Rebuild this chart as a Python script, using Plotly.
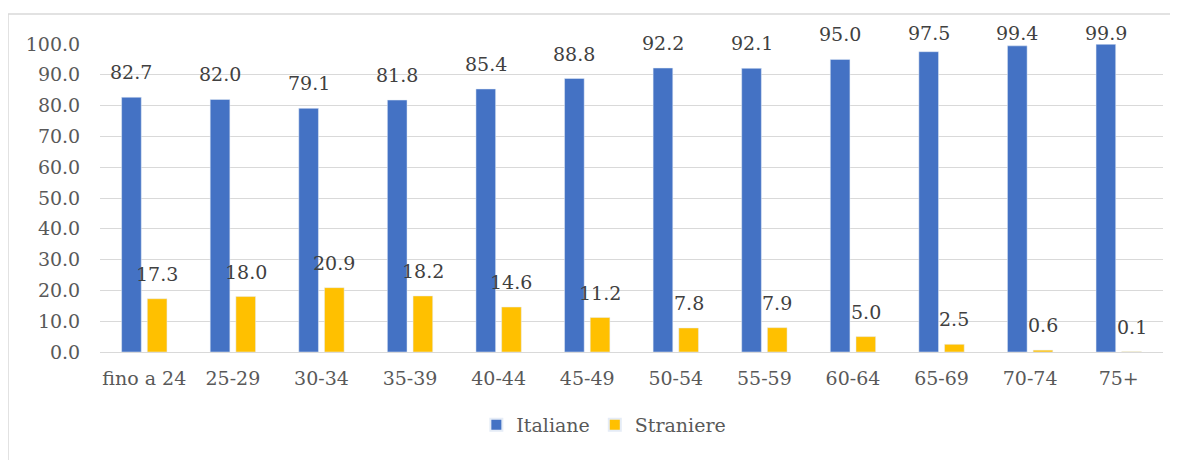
import plotly.graph_objects as go

categories = ['fino a 24', '25-29', '30-34', '35-39', '40-44', '45-49',
              '50-54', '55-59', '60-64', '65-69', '70-74', '75+']
italiane = [82.7, 82.0, 79.1, 81.8, 85.4, 88.8, 92.2, 92.1, 95.0, 97.5, 99.4, 99.9]
straniere = [17.3, 18.0, 20.9, 18.2, 14.6, 11.2, 7.8, 7.9, 5.0, 2.5, 0.6, 0.1]

BLUE = '#4472C4'
GOLD = '#FFC000'
FONT = 'DejaVu Serif'
FS = 19

fig = go.Figure()
fig.add_trace(go.Bar(x=categories, y=italiane, name='Italiane', marker_color=BLUE))
fig.add_trace(go.Bar(x=categories, y=straniere, name='Straniere', marker_color=GOLD))

# data labels sit a bit above the bars (Excel style), kept inside the chart at the top
for vals, dx in [(italiane, -12.8), (straniere, 12.8)]:
    for c, v in zip(categories, vals):
        fig.add_annotation(x=c, y=min(v, 95.5), text=f'{v:.1f}', showarrow=False,
                           xshift=dx, yshift=25, yanchor='middle',
                           font=dict(family=FONT, size=FS, color='#404040'))

# chart border (left/top visible)
fig.add_shape(type='rect', xref='paper', yref='paper',
              x0=-92 / 1063, x1=1.2, y0=-0.5, y1=1.0974,
              line=dict(color='#d9d9d9', width=1.5), layer='below')

fig.update_layout(
    width=1170, height=452,
    margin=dict(l=92, r=15, t=36, b=108),
    barmode='group', bargap=0.42, bargroupgap=0.235,
    plot_bgcolor='white', paper_bgcolor='white',
    font=dict(family=FONT, size=FS, color='#595959'),
    showlegend=True,
    legend=dict(orientation='h', x=0.474, xanchor='center', y=-0.175, yanchor='top',
                font=dict(family=FONT, size=FS, color='#595959'),
                itemwidth=30, itemsizing='constant'),
)
fig.update_yaxes(range=[0, 100], dtick=10, tickformat='.1f',
                 showgrid=True, gridcolor='#d9d9d9', gridwidth=1,
                 zeroline=True, zerolinecolor='#d9d9d9', zerolinewidth=1,
                 ticks='outside', ticklen=15, tickcolor='rgba(0,0,0,0)')
fig.update_xaxes(showgrid=False, showline=False,
                 ticks='outside', ticklen=9, tickcolor='rgba(0,0,0,0)')

fig.write_html("out.html")
